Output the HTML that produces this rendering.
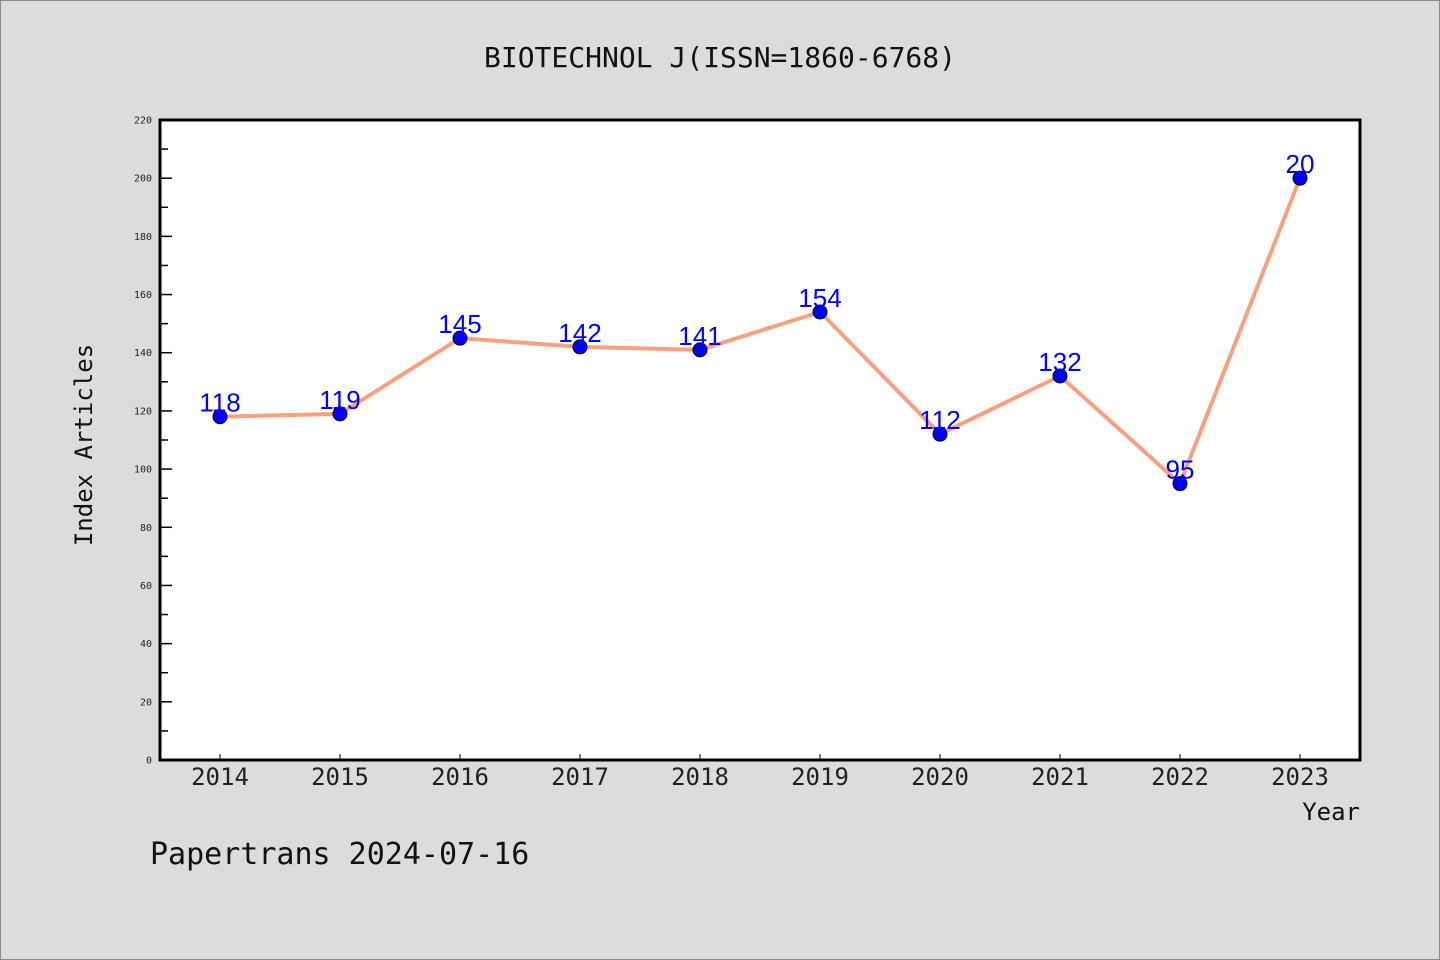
<!DOCTYPE html>
<html><head><meta charset="utf-8"><style>
html,body{margin:0;padding:0;background:#dcdcdc;}
svg{display:block;}
text{font-family:"DejaVu Sans Mono","Liberation Mono",monospace;}
</style></head><body>
<svg id="chart" width="1440" height="960" xmlns="http://www.w3.org/2000/svg">
<rect x="0.5" y="0.5" width="1439" height="959" fill="#dcdcdc" stroke="#888"/>
<text x="720" y="67" text-anchor="middle" font-size="28" fill="#111">BIOTECHNOL J(ISSN=1860-6768)</text>
<rect x="160" y="120" width="1200" height="640" fill="#fff"/>
<g id="yaxis"></g>
<g id="xaxis"></g>
<g id="series"></g>
<rect x="160" y="120" width="1200" height="640" fill="none" stroke="#000" stroke-width="3"/>
<text x="92" y="445" text-anchor="middle" font-size="24" fill="#111" transform="rotate(-90 92 445)">Index Articles</text>
<text x="1360" y="820" text-anchor="end" font-size="24" fill="#111">Year</text>
<text x="150" y="864" font-size="30" fill="#111">Papertrans 2024-07-16</text>
</svg>
<script>
const years = ["2014","2015","2016","2017","2018","2019","2020","2021","2022","2023"];
const values = [118,119,145,142,141,154,112,132,95,200];
const valueLabels = ["118","119","145","142","141","154","112","132","95","20"];
const yTicks = [0,20,40,60,80,100,120,140,160,180,200,220];

const NS="http://www.w3.org/2000/svg";
const x0=160,x1=1360,y0=760,y1=120,yMax=220;
const xs=i=>220+i*(x1-x0)/years.length;
const ys=v=>y0-(v/yMax)*(y0-y1);
function mk(tag,attrs,parent){const e=document.createElementNS(NS,tag);for(const k in attrs)e.setAttribute(k,attrs[k]);parent.appendChild(e);return e;}
const ya=document.getElementById('yaxis'),xa=document.getElementById('xaxis'),sg=document.getElementById('series');
yTicks.forEach((t,i)=>{
  const y=ys(t);
  const l=mk('line',{x1:x0,x2:x0+12,y1:y,y2:y,stroke:'#000','stroke-width':1.5},ya);
  
  
  const tx=mk('text',{x:152,y:y+3.5,'text-anchor':'end','font-size':10,fill:'#222'},ya);
  tx.textContent=t;
  
  
  if(i<yTicks.length-1){
    const ym=ys(t+(yTicks[1]-yTicks[0])/2);
    const m=mk('line',{x1:x0,x2:x0+8,y1:ym,y2:ym,stroke:'#000','stroke-width':1.5},ya);
    
    
  }
});
years.forEach((yr,i)=>{
  const x=xs(i);
  const l=mk('line',{x1:x,x2:x,y1:y0,y2:y0-6,stroke:'#000','stroke-width':1},xa);
  
  
  const tx=mk('text',{x:x,y:785,'text-anchor':'middle','font-size':24,fill:'#222'},xa);
  tx.textContent=yr;
  
  
});
const pts=values.map((v,i)=>xs(i)+','+ys(v)).join(' ');
const pl=mk('polyline',{points:pts,fill:'none',stroke:'#f9a07e','stroke-width':4,'stroke-linejoin':'round'},sg);


values.forEach((v,i)=>{
  const c=mk('circle',{cx:xs(i),cy:ys(v),r:7,fill:'#0000ff',stroke:'#000','stroke-width':1},sg);
  
  
  const t=mk('text',{x:xs(i),y:ys(v)-5,'text-anchor':'middle','font-size':26,fill:'#0000ff'},sg);
  t.style.fontFamily='"Liberation Sans",sans-serif';
  t.textContent=valueLabels[i];
  
  
});
</script>
</body></html>
